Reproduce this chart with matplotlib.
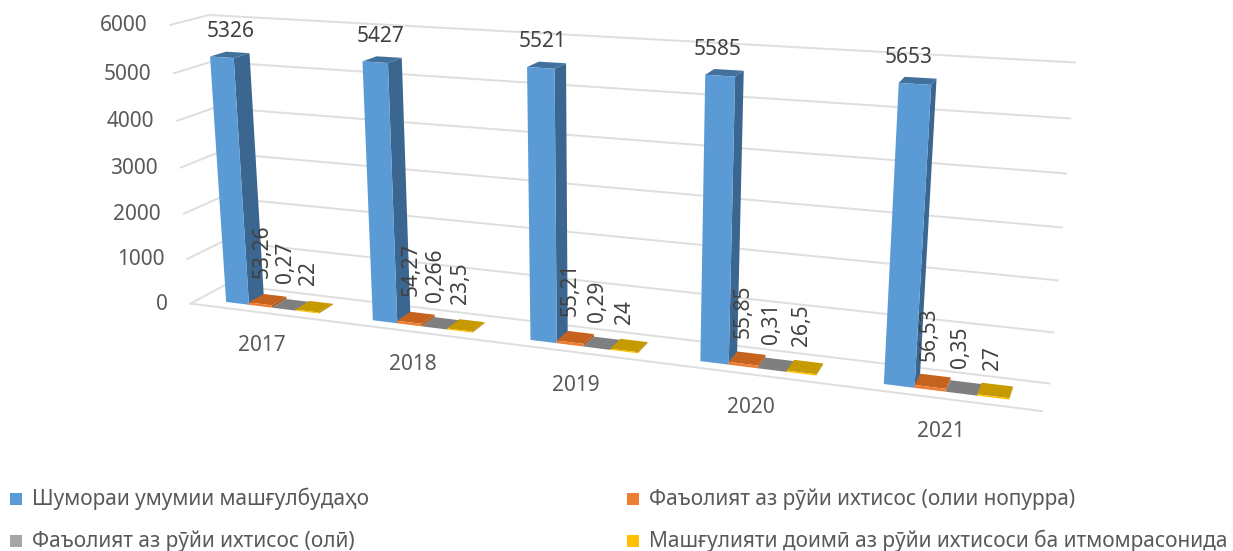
import numpy as np
import matplotlib
matplotlib.use("Agg")
import matplotlib.pyplot as plt
from matplotlib.patches import Polygon, Rectangle

years = ["2017", "2018", "2019", "2020", "2021"]
total = [5326, 5427, 5521, 5585, 5653]
higher_part = [53.26, 54.27, 55.21, 55.85, 56.53]
higher_full = [0.27, 0.266, 0.29, 0.31, 0.35]
permanent = [22, 23.5, 24, 26.5, 27]
series = [total, higher_part, higher_full, permanent]

total_labels = ["5326", "5427", "5521", "5585", "5653"]
part_labels = ["53,26", "54,27", "55,21", "55,85", "56,53"]
full_labels = ["0,27", "0,266", "0,29", "0,31", "0,35"]
perm_labels = ["22", "23,5", "24", "26,5", "27"]
value_labels = [total_labels, part_labels, full_labels, perm_labels]

y_ticks = [0, 1000, 2000, 3000, 4000, 5000, 6000]
names = ["Шумораи умумии машғулбудаҳо",
         "Фаъолият аз рӯйи ихтисос (олии нопурра)",
         "Фаъолият аз рӯйи ихтисос (олӣ)",
         "Машғулияти доимӣ аз рӯйи ихтисоси ба итмомрасонида"]

legend_colors = ["#5B9BD5", "#ED7D31", "#A5A5A5", "#FFC000"]
front_colors = ["#5B9BD5", "#ED7D31", "#A5A5A5", "#FFC000"]
side_colors = ["#3A6690", "#A85A20", "#707070", "#A88000"]
top_colors = ["#41719C", "#C5621E", "#7F7F7F", "#C79A00"]

plt.rcParams["font.family"] = ["Noto Sans", "DejaVu Sans"]


# the chart box in the picture: (category, value, depth) -> pixel
def fit_camera():
    box = [(0, 0, 0, 192, 303), (5, 0, 0, 1042, 412),
           (0, 0, 1, 225, 285), (5, 0, 1, 1050, 383),
           (0, 6000, 1, 210, 15), (5, 6000, 1, 1075, 63),
           (0, 6000, 0, 170, 25), (5, 5000, 1, 1070, 118),
           (5, 1000, 1, 1053, 332), (0, 5000, 0, 173, 73)]
    A, b = [], []
    for t, v, d, px, py in box:
        v = v / 6000
        A.append([t, v, d, 1, 0, 0, 0, 0, -px * t, -px * v, -px * d])
        b.append(px)
        A.append([0, 0, 0, 0, t, v, d, 1, -py * t, -py * v, -py * d])
        b.append(py)
    p = np.linalg.lstsq(np.array(A, float), np.array(b, float), rcond=None)[0]
    return np.append(p, 1).reshape(3, 4)


camera = fit_camera()


def project(t, v, d):
    x, y, w = camera @ np.array([t, v / 6000, d, 1])
    return x / w, y / w


fig = plt.figure(figsize=(12.33, 5.51), dpi=100)
ax = fig.add_axes([0, 0, 1, 1])
ax.set_xlim(0, 1233)
ax.set_ylim(551, 0)
ax.axis("off")

grid = "#DEDEDE"
for v in y_ticks:
    pts = [project(0, v, 0), project(0, v, 1), project(5, v, 1)]
    ax.plot(*zip(*pts), color=grid, lw=1.4, zorder=1)
    x0, y0 = project(0, v, 0)
    ax.text(x0 - 23, y0 + 1, str(v), ha="right", va="center", fontsize=15, color="#595959")
ax.plot(*zip(project(0, 0, 0), project(5, 0, 0)), color=grid, lw=1.4, zorder=1)

gap = 0.188
bar_w = 0.16
d0, d1 = 0.25, 0.68

z = 2
for i in range(len(years)):
    for s in range(4):
        v = series[s][i]
        t0 = i + gap + s * bar_w
        t1 = t0 + bar_w
        front = [project(t0, 0, d0), project(t1, 0, d0), project(t1, v, d0), project(t0, v, d0)]
        side = [project(t1, 0, d0), project(t1, 0, d1), project(t1, v, d1), project(t1, v, d0)]
        top = [project(t0, v, d0), project(t1, v, d0), project(t1, v, d1), project(t0, v, d1)]
        ax.add_patch(Polygon(side, color=side_colors[s], lw=0, zorder=z))
        ax.add_patch(Polygon(top, color=top_colors[s], lw=0, zorder=z))
        ax.add_patch(Polygon(front, color=front_colors[s], lw=0, zorder=z))
        lx, ly = project((t0 + t1) / 2, v, d0)
        if s == 0:
            ax.text(lx + 9 - 3.8 * i, ly - 26, value_labels[s][i], ha="center", va="center",
                    fontsize=15, color="#404040", zorder=10)
        else:
            ax.text(lx + 2 - 0.7 * i, ly - 26, value_labels[s][i], ha="center", va="bottom",
                    rotation=90, fontsize=15, color="#404040", zorder=10)
    cx, cy = project(i + 0.5, 0, 0)
    ax.text(cx, cy + 33, years[i], ha="center", va="center", fontsize=15, color="#595959")

legend_x = [10, 627, 10, 627]
legend_y = [499, 499, 541, 541]
for n, c, lx, ly in zip(names, legend_colors, legend_x, legend_y):
    ax.add_patch(Rectangle((lx, ly - 6), 12, 12, color=c, lw=0))
    ax.text(lx + 22, ly, n, ha="left", va="center", fontsize=15, color="#595959")

fig.savefig("out.png", dpi=100)
